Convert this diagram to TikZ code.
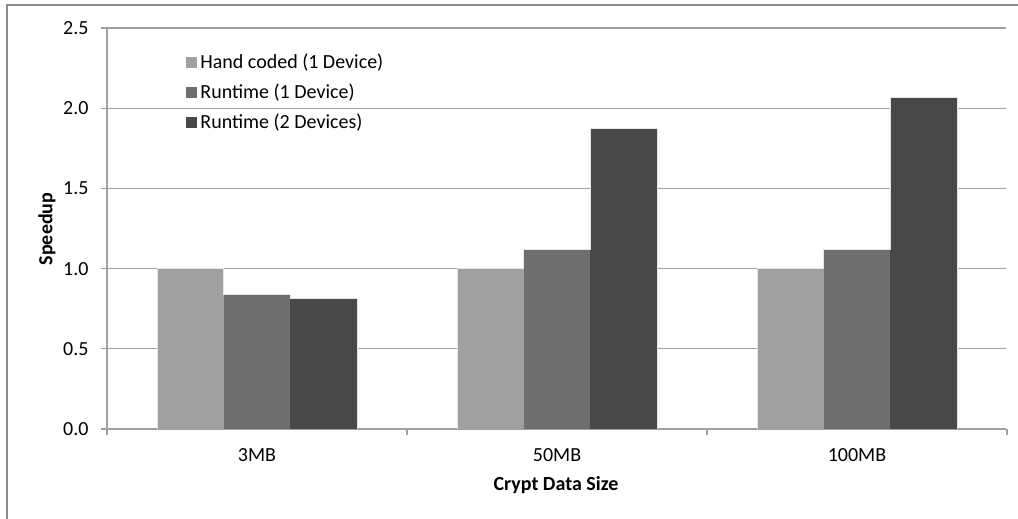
\documentclass[tikz,border=0pt]{standalone}
\usepackage{fontspec}
\setmainfont{Carlito}
\usetikzlibrary{positioning}

\definecolor{handcoded}{HTML}{A0A0A0}
\definecolor{runone}{HTML}{6E6E6E}
\definecolor{runtwo}{HTML}{484848}
\definecolor{gridgray}{HTML}{A0A0A0}
\definecolor{framegray}{HTML}{8C8C8C}

\begin{document}
\begin{tikzpicture}[x=1pt,y=1pt,
    font=\fontsize{20}{24}\selectfont,
    gridline/.style={draw=gridgray, line width=1.3pt},
    bar/.style={draw=white!80!gray, line width=0.7pt},
    key/.style={minimum size=11pt, inner sep=0pt}]
    \def\unit{160.4}   % Height of one speedup unit
    \def\group{300}    % Width of one category
    \def\barw{66.7}    % Width of one bar

    % Fix the page size
    \useasboundingbox (-107,-90) rectangle (911,429);

    % Draw the outer frame
    \draw[framegray, line width=1.3pt] (-100,-90) -- (-100,424) -- (911,424);

    % Draw the grid lines and the y tick labels
    \foreach \v/\name in {0.0/yzero,0.5/yhalf,1.0/yone,1.5/yonehalf,2.0/ytwo,2.5/ytwohalf} {
        \draw[gridline] (-6,\v*\unit) -- (899,\v*\unit);
        \node[anchor=east] (\name) at (-15,\v*\unit) {\v};
    }

    % Draw the axes and the x ticks
    \draw[gridline] (0,0) -- (0,2.5*\unit);
    \foreach \x in {0,1,2,3}
        \draw[gridline] (\x*\group,0) -- (\x*\group,-6);

    % Draw the bars
    \foreach \i/\a/\b/\c in {0/1.0/0.842/0.817, 1/1.0/1.122/1.876, 2/1.0/1.122/2.067} {
        \fill[handcoded] ({\i*\group+50},0) rectangle ++(\barw,\a*\unit);
        \fill[runone] ({\i*\group+50+\barw},0) rectangle ++(\barw,\b*\unit);
        \fill[runtwo] ({\i*\group+50+2*\barw},0) rectangle ++(\barw,\c*\unit);
        \draw[bar] ({\i*\group+50},0) -- ++(0,\a*\unit) -- ++(\barw,0)
            -- ++(0,\b*\unit-\a*\unit) -- ++(\barw,0) -- ++(0,\c*\unit-\b*\unit)
            -- ++(\barw,0) -- ++(0,-\c*\unit);
    }

    % Label the categories
    \node (catsmall) at (150,-26) {3MB};
    \node (catmid) at (450,-26) {50MB};
    \node (catlarge) at (750,-26) {100MB};

    % Axis titles
    \node[font=\fontsize{20}{24}\selectfont\bfseries] (xtitle) at (449,-56) {Crypt Data Size};
    \node[font=\fontsize{20}{24}\selectfont\bfseries, rotate=90] (ytitle) at (-60,200) {Speedup};

    % Legend
    \node[key, fill=handcoded] (keyhand) at (84.5,366) {};
    \node[key, fill=runone] (keyone) at (84.5,336) {};
    \node[key, fill=runtwo] (keytwo) at (84.5,306) {};
    \node[right=3pt of keyhand, inner sep=0pt] (labhand) {Hand coded (1 Device)};
    \node[right=3pt of keyone, inner sep=0pt] (labone) {Runtime (1 Device)};
    \node[right=3pt of keytwo, inner sep=0pt] (labtwo) {Runtime (2 Devices)};
\end{tikzpicture}
\end{document}
